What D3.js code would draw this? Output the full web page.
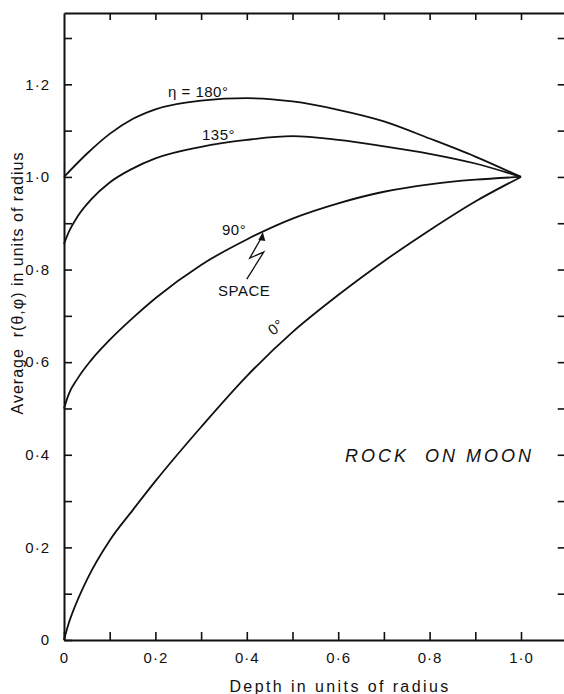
<!DOCTYPE html>
<html>
<head>
<meta charset="utf-8">
<script src="https://cdn.jsdelivr.net/npm/d3@7"></script>
<style>
  body { margin: 0; background: #fff; overflow: hidden; }
  svg { display: block; overflow: hidden; }
  svg text { font-family: "Liberation Sans", Arial, sans-serif; fill: #111; }
</style>
</head>
<body>
<div id="chart"></div>
<script>
// data (depth, average r)
const depth180 = [0, 0.05, 0.1, 0.15, 0.2, 0.3, 0.4, 0.5, 0.6, 0.7, 0.8, 0.9, 1.0]
const r180 = [1.0, 1.05, 1.093, 1.125, 1.146, 1.165, 1.17, 1.163, 1.145, 1.12, 1.083, 1.044, 1.0]

const depth135 = [0, 0.01, 0.03, 0.06, 0.1, 0.15, 0.2, 0.3, 0.4, 0.5, 0.6, 0.7, 0.8, 0.9, 1.0]
const r135 = [0.855, 0.88, 0.915, 0.952, 0.988, 1.018, 1.04, 1.065, 1.08, 1.088, 1.08, 1.066, 1.05, 1.029, 1.0]

const depth90 = [0, 0.01, 0.03, 0.06, 0.1, 0.15, 0.2, 0.3, 0.4, 0.5, 0.6, 0.7, 0.8, 0.9, 1.0]
const r90 = [0.5, 0.53, 0.565, 0.605, 0.648, 0.695, 0.738, 0.81, 0.865, 0.91, 0.943, 0.968, 0.984, 0.994, 1.0]

const depth0 = [0, 0.01, 0.025, 0.05, 0.1, 0.15, 0.2, 0.3, 0.4, 0.5, 0.6, 0.7, 0.8, 0.9, 1.0]
const r0 = [0, 0.035, 0.075, 0.13, 0.215, 0.28, 0.343, 0.46, 0.57, 0.665, 0.745, 0.818, 0.885, 0.947, 1.0]

const xTicks = [0, 0.1, 0.2, 0.3, 0.4, 0.5, 0.6, 0.7, 0.8, 0.9, 1.0]
const yTicks = [0, 0.1, 0.2, 0.3, 0.4, 0.5, 0.6, 0.7, 0.8, 0.9, 1.0, 1.1, 1.2, 1.3]

const width = 564,
  height = 694

const x = d3.scaleLinear().domain([0, 1.1]).range([64, 566.7])
const y = d3.scaleLinear().domain([0, 1.354]).range([640, 13])

const svg = d3.select('#chart')
  .append('svg')
  .attr('width', width)
  .attr('height', height)

// label format: 0·2 style, only every other tick
const fmt = (d, i) => (i % 2 ? '' : (d === 0 ? '0' : d.toFixed(1).replace('.', '\u00b7')))

const styleAxis = g => {
  g.select('.domain').attr('stroke', '#111').attr('stroke-width', 2)
  g.selectAll('.tick line').attr('stroke', '#111').attr('stroke-width', 1.6)
  g.selectAll('.tick text')
    .style('font-family', '"Liberation Sans", Arial, sans-serif')
    .style('font-size', '15px')
    .style('letter-spacing', '1px')
    .attr('fill', '#111')
}

// bottom
svg.append('g')
  .attr('transform', `translate(0,${y(0)})`)
  .call(d3.axisBottom(x).tickValues(xTicks).tickFormat(fmt).tickSizeInner(-8).tickSizeOuter(0).tickPadding(12))
  .call(styleAxis)

// left
svg.append('g')
  .attr('transform', `translate(${x(0)},0)`)
  .call(d3.axisLeft(y).tickValues(yTicks).tickFormat(fmt).tickSizeInner(-8).tickSizeOuter(0).tickPadding(14))
  .call(styleAxis)

// top, no labels
svg.append('g')
  .attr('transform', `translate(0,${y.range()[1]})`)
  .call(d3.axisTop(x).tickValues(xTicks.slice(1)).tickFormat('').tickSizeInner(-7).tickSizeOuter(0))
  .call(styleAxis)

// right ticks only, frame edge falls outside the picture
svg.append('g')
  .attr('transform', `translate(${x.range()[1]},0)`)
  .call(d3.axisRight(y).tickValues(yTicks.slice(1)).tickFormat('').tickSizeInner(-9).tickSizeOuter(0))
  .call(styleAxis)
  .call(g => g.select('.domain').remove())

// curves
const line = d3.line()
  .x(d => x(d[0]))
  .y(d => y(d[1]))
  .curve(d3.curveMonotoneX)

const curves = [
  d3.zip(depth180, r180),
  d3.zip(depth135, r135),
  d3.zip(depth90, r90),
  d3.zip(depth0, r0)
]

svg.selectAll('path.curve')
  .data(curves)
  .enter()
  .append('path')
  .attr('class', 'curve')
  .attr('d', line)
  .attr('fill', 'none')
  .attr('stroke', '#111')
  .attr('stroke-width', 1.8)

// curve labels
const label = (tx, ty, s) => svg.append('text')
  .attr('x', tx)
  .attr('y', ty)
  .style('font-size', '15px')
  .style('letter-spacing', '0.5px')
  .style('white-space', 'pre')
  .text(s)

label(168, 97, '\u03b7 = 180\u00b0')
label(202, 140, '135\u00b0')
label(222, 235, '90\u00b0')
label(218, 296, 'SPACE')
label(0, 0, '0\u00b0').attr('transform', 'translate(273,336) rotate(-38)')

// arrow to the 90 degree curve
const tip = [x(0.435), y(0.881)]
svg.append('path')
  .attr('d', `M${tip[0] - 16},${tip[1] + 47} L${tip[0] + 1},${tip[1] + 20} L${tip[0] - 13},${tip[1] + 26} L${tip[0] - 1},${tip[1] + 5}`)
  .attr('fill', 'none')
  .attr('stroke', '#111')
  .attr('stroke-width', 1.3)
svg.append('path')
  .attr('d', `M${tip[0]},${tip[1]} L${tip[0] - 4.5},${tip[1] + 8} L${tip[0] + 2.5},${tip[1] + 9} Z`)
  .attr('fill', '#111')

// annotation
svg.append('text')
  .attr('x', 345)
  .attr('y', 462)
  .style('font-size', '18px')
  .style('font-style', 'italic')
  .style('letter-spacing', '3px')
  .style('white-space', 'pre')
  .text('ROCK  ON MOON')

// axis titles
svg.append('text')
  .attr('x', 340)
  .attr('y', 692)
  .attr('text-anchor', 'middle')
  .style('font-size', '16px')
  .style('letter-spacing', '2.4px')
  .style('white-space', 'pre')
  .text('Depth in units of radius')

svg.append('text')
  .attr('transform', 'translate(23,283) rotate(-90)')
  .attr('text-anchor', 'middle')
  .style('font-size', '16px')
  .style('letter-spacing', '1px')
  .style('white-space', 'pre')
  .text('Average  r(\u03b8,\u03c6) in units of radius')
</script>
</body>
</html>
